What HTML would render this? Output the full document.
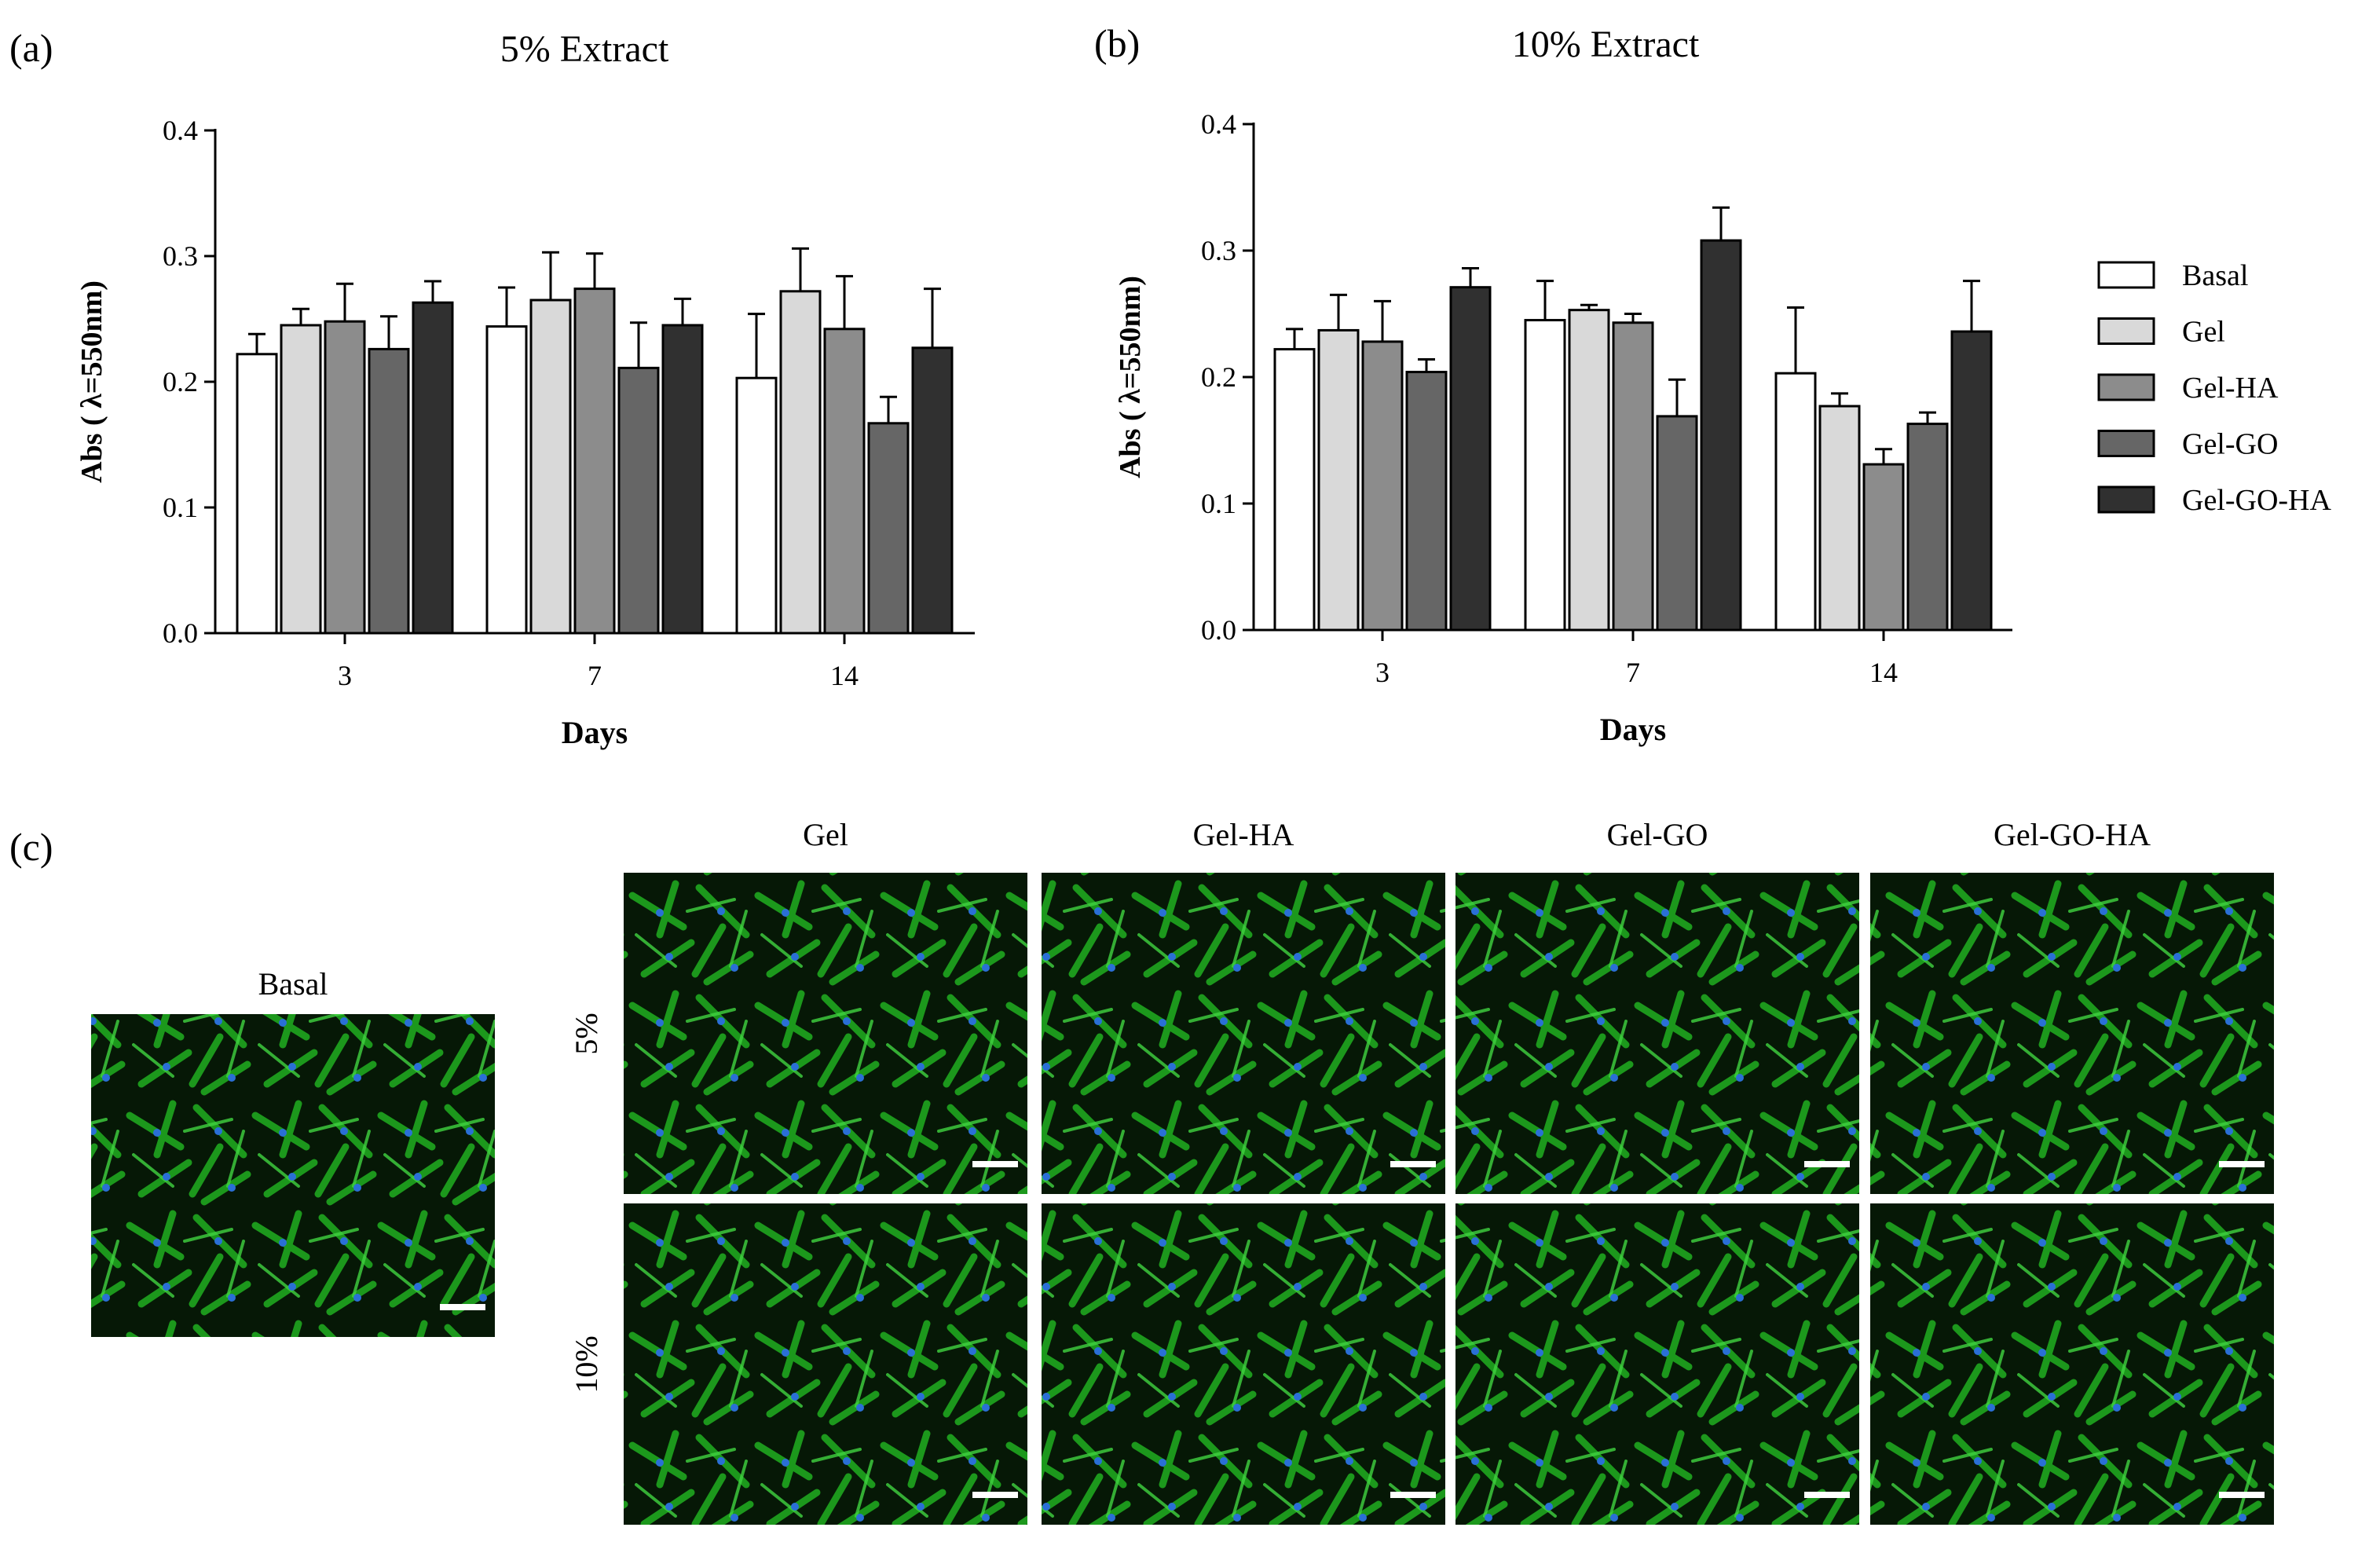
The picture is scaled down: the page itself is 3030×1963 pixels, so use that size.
<!DOCTYPE html>
<html><head><meta charset="utf-8">
<style>
html,body{margin:0;padding:0;background:#fff;}
body{width:3030px;height:1963px;position:relative;overflow:hidden;font-family:"Liberation Serif",serif;}
svg{position:absolute;left:0;top:0;}
</style></head>
<body>
<svg id="fig" width="3030" height="1963" xmlns="http://www.w3.org/2000/svg">
  <defs>
    <pattern id="cells" width="160" height="140" patternUnits="userSpaceOnUse">
      <rect width="160" height="140" fill="#061806"/>
      <g stroke="#1fae1f" stroke-width="9" stroke-linecap="round" opacity="0.85">
        <line x1="5" y1="20" x2="70" y2="60"/><line x1="90" y1="10" x2="150" y2="70"/>
        <line x1="20" y1="120" x2="80" y2="80"/><line x1="100" y1="130" x2="155" y2="95"/>
        <line x1="60" y1="5" x2="40" y2="70"/><line x1="120" y1="60" x2="85" y2="120"/>
      </g>
      <g stroke="#3fd43f" stroke-width="4" stroke-linecap="round" opacity="0.8">
        <line x1="10" y1="70" x2="60" y2="110"/><line x1="75" y1="40" x2="135" y2="25"/>
        <line x1="130" y1="110" x2="150" y2="40"/>
      </g>
      <g fill="#2a6fd6"><circle cx="40" cy="42" r="5"/><circle cx="118" cy="40" r="5"/><circle cx="52" cy="98" r="5"/><circle cx="135" cy="112" r="5"/></g>
    </pattern>
  </defs>
  <g id="charts"></g>
  <g id="legend"></g>
  <g id="micro"></g>
</svg>
<script>
const NS="http://www.w3.org/2000/svg";
const days=["3","7","14"];
const groups=["Basal","Gel","Gel-HA","Gel-GO","Gel-GO-HA"];
const colors=["#ffffff","#d9d9d9","#8c8c8c","#666666","#303030"];
const yTicks=[0.0,0.1,0.2,0.3,0.4];
const valsA=[[0.222,0.245,0.248,0.226,0.263],[0.244,0.265,0.274,0.211,0.245],[0.203,0.272,0.242,0.167,0.227]];
const errA=[[0.016,0.013,0.030,0.026,0.017],[0.031,0.038,0.028,0.036,0.021],[0.051,0.034,0.042,0.021,0.047]];
const valsB=[[0.222,0.237,0.228,0.204,0.271],[0.245,0.253,0.243,0.169,0.308],[0.203,0.177,0.131,0.163,0.236]];
const errB=[[0.016,0.028,0.032,0.010,0.015],[0.031,0.004,0.007,0.029,0.026],[0.052,0.010,0.012,0.009,0.040]];

function el(tag,attrs,parent,text){const e=document.createElementNS(NS,tag);for(const k in attrs)e.setAttribute(k,attrs[k]);if(text!==undefined)e.textContent=text;parent.appendChild(e);return e;}

function chart(cfg){
  const root=document.getElementById('charts');
  const g=el('g',{},root);
  
  
  const y=v=>cfg.y0-(v/0.4)*(cfg.y0-cfg.y4);
  const gx=i=>cfg.gx[0]+i*(cfg.gx[1]-cfg.gx[0]);
  const bw=50,step=56;
  const ax=el('line',{x1:cfg.ax,y1:cfg.y4-2,x2:cfg.ax,y2:cfg.y0,stroke:'#000','stroke-width':3},g);
  
  const xx=el('line',{x1:cfg.ax,y1:cfg.y0,x2:cfg.xend,y2:cfg.y0,stroke:'#000','stroke-width':3},g);
  
  yTicks.forEach(t=>{
    el('line',{x1:cfg.ax-14,y1:y(t),x2:cfg.ax,y2:y(t),stroke:'#000','stroke-width':3},g);
    const tl=el('text',{x:cfg.ax-22,y:y(t)+12,'text-anchor':'end','font-size':36},g,t.toFixed(1));
    
  });
  days.forEach((d,i)=>{
    el('line',{x1:gx(i),y1:cfg.y0,x2:gx(i),y2:cfg.y0+14,stroke:'#000','stroke-width':3},g);
    const tl=el('text',{x:gx(i),y:cfg.y0+66,'text-anchor':'middle','font-size':36},g,d);
    
    cfg.vals[i].forEach((v,j)=>{
      const cx=gx(i)+(j-2)*step;
      const top=y(v),et=y(v+cfg.err[i][j]);
      const ln=el('line',{x1:cx,y1:top,x2:cx,y2:et,stroke:'#000','stroke-width':3},g);
      
      el('line',{x1:cx-11,y1:et,x2:cx+11,y2:et,stroke:'#000','stroke-width':3},g);
      const r=el('rect',{x:cx-bw/2,y:top,width:bw,height:cfg.y0-top,fill:colors[j],stroke:'#000','stroke-width':3},g);
      
      
    });
  });
  const xt=el('text',{x:gx(1),y:cfg.y0+140,'text-anchor':'middle','font-size':40,'font-weight':'bold'},g,'Days');
  
  const ytx=cfg.ax-145,yty=(cfg.y0+cfg.y4)/2;
  const yt=el('text',{x:ytx,y:yty,'text-anchor':'middle','font-size':38,'font-weight':'bold',transform:`rotate(-90 ${ytx} ${yty})`},g,'Abs ( λ=550nm)');
  
  const tt=el('text',{x:cfg.titleX,y:cfg.titleY,'text-anchor':'middle','font-size':48},g,cfg.title);
  
  const pl=el('text',{x:cfg.plX,y:cfg.titleY,'font-size':50},g,cfg.pl);
  
}
chart({name:'chart-5-percent',ax:274,xend:1241,y0:806,y4:166,gx:[439,757],vals:valsA,err:errA,title:'5% Extract',titleX:744,titleY:78,pl:'(a)',plX:12});
chart({name:'chart-10-percent',ax:1596,xend:2562,y0:802,y4:158,gx:[1760,2079],vals:valsB,err:errB,title:'10% Extract',titleX:2044,titleY:72,pl:'(b)',plX:1393});

const lg=document.getElementById('legend');
groups.forEach((n,i)=>{
  const cy=350+i*71.5;
  const r=el('rect',{x:2672,y:cy-16,width:70,height:32,fill:colors[i],stroke:'#000','stroke-width':3},lg);
  
  const t=el('text',{x:2778,y:cy+13,'font-size':38},lg,n);
  
});

const mg=document.getElementById('micro');
function img(x,y,w,h,name){
  const r=el('rect',{x:x,y:y,width:w,height:h,fill:'url(#cells)'},mg);
  
  el('rect',{x:x+w-70,y:y+h-42,width:58,height:8,fill:'#fff'},mg);
}
const pc=el('text',{x:12,y:1095,'font-size':50},mg,'(c)');

const bl=el('text',{x:373,y:1266,'text-anchor':'middle','font-size':40},mg,'Basal');

img(116,1291,514,411,'image-basal');
const cols=[794,1326,1853,2381],rows=[1111,1532],names=["Gel","Gel-HA","Gel-GO","Gel-GO-HA"],rn=["5%","10%"];
names.forEach((n,i)=>{
  const t=el('text',{x:cols[i]+257,y:1076,'text-anchor':'middle','font-size':40},mg,n);
  
  rows.forEach((ry,k)=>img(cols[i],ry,514,409,'image-'+n.toLowerCase()+'-'+rn[k]));
});
rn.forEach((n,k)=>{
  const cx=760,cy=rows[k]+205;
  const t=el('text',{x:cx,y:cy,'text-anchor':'middle','font-size':40,transform:`rotate(-90 ${cx} ${cy})`},mg,n);
  
});
</script>
</body></html>
